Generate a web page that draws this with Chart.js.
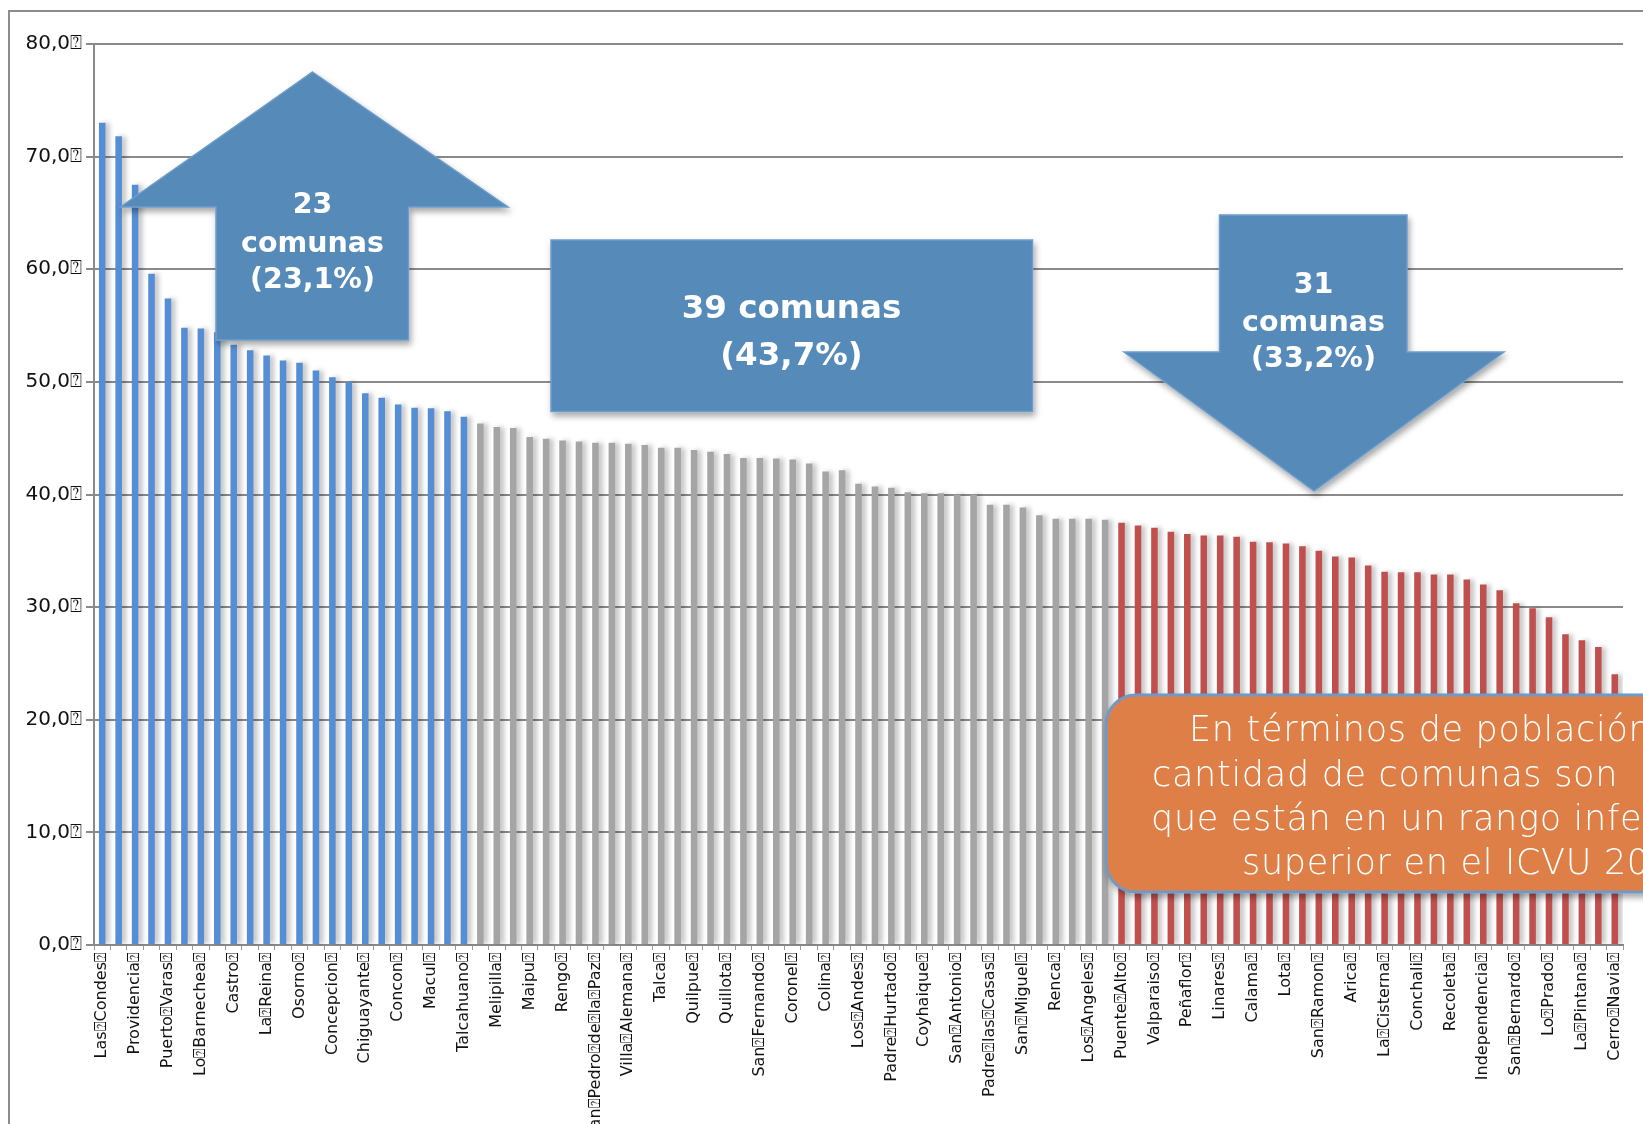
<!DOCTYPE html>
<html>
<head>
<meta charset="utf-8">
<script src="https://cdn.jsdelivr.net/npm/chart.js@4.4.1/dist/chart.umd.min.js"></script>
<style>
  html, body { margin: 0; padding: 0; background: #ffffff; overflow: hidden; }
  #wrap { position: relative; width: 1643px; height: 1124px; overflow: hidden; }
  #c { position: absolute; left: 0; top: 0; }
  #ov { position: absolute; left: 0; top: 0; pointer-events: none; }
</style>
</head>
<body>
<div id="wrap">
  <canvas id="c" width="1643" height="1124"></canvas>
  <svg id="ov" width="1643" height="1124" viewBox="0 0 1643 1124">
    <defs>
      <filter id="sh" x="-20%" y="-20%" width="140%" height="140%">
        <feDropShadow dx="2" dy="4" stdDeviation="3" flood-color="#000" flood-opacity="0.35"/>
      </filter>
    </defs>
    <path d="M9 1124 V11 H1643" fill="none" stroke="#8c8c8c" stroke-width="2"/>
    <!-- up arrow -->
    <polygon points="312.5,72 508,207 408.5,207 408.5,340 216,340 216,207 120.5,207"
             fill="#548ab9" stroke="#6d9dcb" stroke-width="1.5" filter="url(#sh)"/>
    <g font-family="DejaVu Sans" font-weight="bold" fill="#ffffff" text-anchor="middle" font-size="28.5">
      <text x="312.5" y="213">23</text>
      <text x="312.5" y="252">comunas</text>
      <text x="312.5" y="288">(23,1%)</text>
    </g>
    <!-- middle box -->
    <rect x="551" y="240" width="481.5" height="171.5" fill="#548ab9" stroke="#6d9dcb" stroke-width="1.5" filter="url(#sh)"/>
    <g font-family="DejaVu Sans" font-weight="bold" fill="#ffffff" text-anchor="middle" font-size="32.5">
      <text x="791.5" y="318">39 comunas</text>
      <text x="791.5" y="365">(43,7%)</text>
    </g>
    <!-- down arrow -->
    <polygon points="1219.5,215 1407,215 1407,352 1504,352 1314,491 1124,352 1219.5,352"
             fill="#548ab9" stroke="#6d9dcb" stroke-width="1.5" filter="url(#sh)"/>
    <g font-family="DejaVu Sans" font-weight="bold" fill="#ffffff" text-anchor="middle" font-size="28.5">
      <text x="1313.5" y="292.5">31</text>
      <text x="1313.5" y="331">comunas</text>
      <text x="1313.5" y="367">(33,2%)</text>
    </g>
    <!-- orange note -->
    <rect x="1106" y="695" width="700" height="197" rx="30" ry="30" fill="#de7f47" stroke="#7199c5" stroke-width="3" filter="url(#sh)"/>
    <g font-family="DejaVu Sans" font-weight="200" fill="#ffffff" font-size="35" letter-spacing="0.7">
      <text x="1189" y="741">En términos de población</text>
      <text x="1152" y="785.5">cantidad de comunas son</text>
      <text x="1151" y="830">que están en un rango inferior</text>
      <text x="1242" y="874">superior en el ICVU 201</text>
    </g>
  </svg>
</div>
<script>
// ---- data ----
const comunas = [
  'Las Condes','', 'Providencia','', 'Puerto Varas','', 'Lo Barnechea','', 'Castro','',
  'La Reina','', 'Osorno','', 'Concepcion','', 'Chiguayante','', 'Concon','',
  'Macul','', 'Talcahuano','', 'Melipilla','', 'Maipu','', 'Rengo','',
  'San Pedro de la Paz','', 'Villa Alemana','', 'Talca','', 'Quilpue','', 'Quillota','',
  'San Fernando','', 'Coronel','', 'Colina','', 'Los Andes','', 'Padre Hurtado','',
  'Coyhaique','', 'San Antonio','', 'Padre las Casas','', 'San Miguel','', 'Renca','',
  'Los Angeles','', 'Puente Alto','', 'Valparaiso','', 'Peñaflor','', 'Linares','',
  'Calama','', 'Lota','', 'San Ramon','', 'Arica','', 'La Cisterna','',
  'Conchali','', 'Recoleta','', 'Independencia','', 'San Bernardo','', 'Lo Prado','',
  'La Pintana','', 'Cerro Navia'
];
const rangoSuperior = [73.0, 71.8, 67.5, 59.6, 57.4, 54.8, 54.75, 54.4, 53.3, 52.8, 52.35, 51.9,
  51.7, 51.0, 50.4, 50.0, 49.0, 48.6, 48.0, 47.7, 47.65, 47.4, 46.9];
const rangoPromedio = [46.3, 46.0, 45.9, 45.1, 44.95, 44.8, 44.7, 44.6, 44.6, 44.5, 44.4, 44.15,
  44.15, 43.95, 43.8, 43.6, 43.25, 43.25, 43.2, 43.1, 42.75, 42.05, 42.15, 40.95, 40.7, 40.6,
  40.2, 40.1, 40.1, 40.0, 40.0, 39.1, 39.1, 38.85, 38.15, 37.85, 37.85, 37.85, 37.75];
const rangoInferior = [37.5, 37.25, 37.05, 36.7, 36.5, 36.35, 36.35, 36.25, 35.8, 35.75, 35.65,
  35.4, 35.0, 34.5, 34.4, 33.7, 33.15, 33.1, 33.1, 32.9, 32.9, 32.45, 32.0, 31.5, 30.35, 29.9,
  29.1, 27.6, 27.05, 26.45, 24.05];
const yMin = 0, yMax = 80, yStep = 10;

const colorSuperior = '#558ed5';
const colorPromedio = '#a5a5a5';
const colorInferior = '#c0504d';

const values = [...rangoSuperior, ...rangoPromedio, ...rangoInferior];
const colors = [
  ...rangoSuperior.map(() => colorSuperior),
  ...rangoPromedio.map(() => colorPromedio),
  ...rangoInferior.map(() => colorInferior)
];

const BOX = '\u2370';

const barShadow = {
  id: 'barShadow',
  beforeDatasetsDraw(chart) {
    const c = chart.ctx;
    c.save();
    c.shadowColor = 'rgba(0,0,0,0.24)';
    c.shadowBlur = 5;
    c.shadowOffsetX = 4;
    c.shadowOffsetY = 0;
  },
  afterDatasetsDraw(chart) { chart.ctx.restore(); }
};

new Chart(document.getElementById('c'), {
  type: 'bar',
  data: {
    labels: comunas,
    datasets: [{
      data: values,
      backgroundColor: colors,
      borderWidth: 0,
      barPercentage: 0.4,
      categoryPercentage: 1.0
    }]
  },
  options: {
    responsive: false,
    animation: false,
    layout: { padding: { left: 0, right: 20, top: 44, bottom: 0 } },
    plugins: { legend: { display: false }, tooltip: { enabled: false } },
    scales: {
      x: {
        grid: { display: true, drawOnChartArea: false, drawTicks: true, tickLength: 5, color: '#9a9a9a', lineWidth: 1 },
        border: { display: true, color: '#8a8a8a', width: 2 },
        ticks: {
          autoSkip: false, maxRotation: 90, minRotation: 90, padding: 2, color: '#111111',
          font: { family: 'DejaVu Sans', size: 16 },
          callback: (v, i) => comunas[i] ? comunas[i].replace(/ /g, BOX) + BOX : ''
        },
        afterFit: (s) => { s.height = 179; }
      },
      y: {
        min: yMin, max: yMax,
        ticks: {
          stepSize: yStep, padding: 4, color: '#111111',
          font: { family: 'DejaVu Sans', size: 20 },
          callback: (v) => Number(v).toFixed(1).replace('.', ',') + BOX
        },
        grid: { color: '#8a8a8a', lineWidth: 2, tickLength: 8 },
        border: { display: true, color: '#8a8a8a', width: 2 },
        afterFit: (s) => { s.width = 94; }
      }
    }
  },
  plugins: [barShadow]
});
</script>
</body>
</html>
